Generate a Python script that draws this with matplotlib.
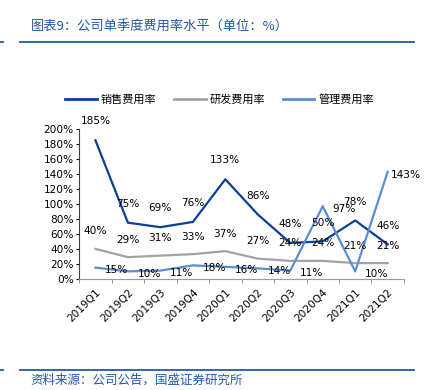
import matplotlib.pyplot as plt
import numpy as np
from matplotlib.lines import Line2D

plt.rcParams['font.family'] = ['DejaVu Sans', 'Noto Sans CJK SC']

quarters = ['2019Q1', '2019Q2', '2019Q3', '2019Q4', '2020Q1',
            '2020Q2', '2020Q3', '2020Q4', '2021Q1', '2021Q2']
sales = [185, 75, 69, 76, 133, 86, 48, 50, 78, 46]
rnd = [40, 29, 31, 33, 37, 27, 24, 24, 21, 21]
admin = [15, 10, 11, 18, 16, 14, 11, 97, 10, 143]
names = ['销售费用率', '研发费用率', '管理费用率']

c_sales = '#0b3f94'
c_rnd = '#a3a3a3'
c_admin = '#5a8ed0'
blue = '#2458a6'

fig = plt.figure(figsize=(4.4, 3.9), dpi=100)
ax = fig.add_axes([0.18, 0.285, 0.738, 0.384])

x = np.arange(len(quarters))
ax.plot(x, sales, color=c_sales, lw=1.6)
ax.plot(x, rnd, color=c_rnd, lw=1.6)
ax.plot(x, admin, color=c_admin, lw=1.6)

fs = 7.6
for i in x:
    ax.annotate('%d%%' % sales[i], (i, sales[i]), xytext=(0, 10), textcoords='offset points',
                ha='center', va='bottom', fontsize=fs)
    ax.annotate('%d%%' % rnd[i], (i, rnd[i]), xytext=(0, 9), textcoords='offset points',
                ha='center', va='bottom', fontsize=fs)
    dx = 2 if i == len(quarters) - 1 else 7
    ax.annotate('%d%%' % admin[i], (i, admin[i]), xytext=(dx, -2), textcoords='offset points',
                ha='left', va='center', fontsize=fs)

ax.set_xlim(-0.5, len(quarters) - 0.5)
ax.set_ylim(0, 200)
ax.set_yticks(np.arange(0, 201, 20))
ax.set_yticklabels(['%d%%' % v for v in range(0, 201, 20)], fontsize=fs)
ax.set_xticks(x)
ax.set_xticklabels(quarters, rotation=45, ha='right', rotation_mode='anchor', fontsize=fs)
ax.set_xticks(np.arange(-0.5, len(quarters)), minor=True)
ax.tick_params(axis='x', which='major', length=0, pad=6)
ax.tick_params(axis='x', which='minor', length=3, color='#808080')
ax.tick_params(axis='y', length=2, pad=2)
for s in ['top', 'right']:
    ax.spines[s].set_visible(False)
ax.spines['bottom'].set_color('#9a9a9a')
ax.spines['left'].set_color('#404040')

handles = [Line2D([], [], color=c, lw=2) for c in [c_sales, c_rnd, c_admin]]
fig.legend(handles, names, loc='center', bbox_to_anchor=(0.5, 0.745), ncol=3, frameon=False,
           prop={'family': 'Noto Sans CJK SC', 'size': 8}, handlelength=2.8, handletextpad=0.4,
           columnspacing=1.6)

fig.text(0.07, 0.93, '图表9：公司单季度费用率水平（单位：%）', color=blue, fontsize=9.5,
         family='Noto Sans CJK SC', va='center')
fig.add_artist(Line2D([0.046, 0.942], [0.892, 0.892], color=blue, lw=1.3))
fig.add_artist(Line2D([0.0, 0.007], [0.892, 0.892], color=blue, lw=1.3))
fig.add_artist(Line2D([0.046, 0.942], [0.051, 0.051], color=blue, lw=1.3))
fig.add_artist(Line2D([0.0, 0.007], [0.051, 0.051], color=blue, lw=1.3))
fig.text(0.07, 0.026, '资料来源：公司公告，国盛证券研究所', color=blue, fontsize=9,
         family='Noto Sans CJK SC', va='center')

fig.savefig('out.png', dpi=100)
